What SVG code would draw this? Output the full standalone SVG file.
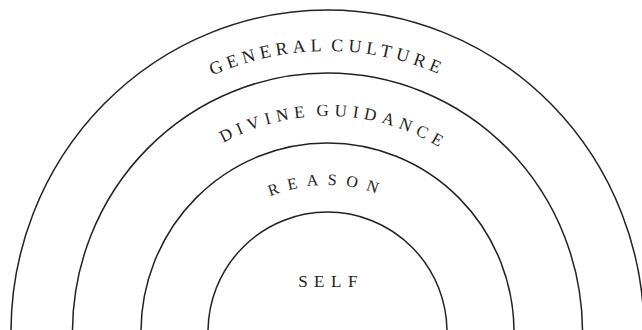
<svg xmlns="http://www.w3.org/2000/svg" width="642" height="330" viewBox="0 0 642 330">
<style>
.arc{fill:none;stroke:#222;stroke-width:1.5}
.lbl{font-family:"Liberation Serif","Times New Roman",serif;fill:#1e1e1e;text-anchor:middle}
</style>
<defs>
<path id="pGC" d="M 46.5 332 A 281 281 0 0 1 608.5 332"/>
<path id="pDG" d="M 111.5 332 A 216 216 0 0 1 543.5 332"/>
<path id="pR" d="M 180.5 332 A 147 147 0 0 1 474.5 332"/>
</defs>
<rect width="642" height="330" fill="#fff"/>
<g id="connectors"></g>
<g id="ring-general-culture">
<path class="arc" d="M 11 332 A 316.5 322 0 0 1 644 332"/>
<text class="lbl" font-size="18" letter-spacing="4.8" word-spacing="-4"><textPath href="#pGC" startOffset="50%">GENERAL CULTURE</textPath></text>
</g>
<g id="ring-divine-guidance">
<path class="arc" d="M 72.5 332 A 255 259 0 0 1 582.5 332"/>
<text class="lbl" font-size="17" letter-spacing="5.6" word-spacing="-4"><textPath href="#pDG" startOffset="51%">DIVINE GUIDANCE</textPath></text>
</g>
<g id="ring-reason">
<path class="arc" d="M 141 332 A 186.5 189 0 0 1 514 332"/>
<text class="lbl" font-size="16" letter-spacing="9"><textPath href="#pR" startOffset="50%">REASON</textPath></text>
</g>
<g id="ring-self">
<path class="arc" d="M 208 332 A 119.5 120 0 0 1 447 332"/>
<text class="lbl" x="331" y="287" font-size="17" letter-spacing="6.5">SELF</text>
</g>
</svg>
